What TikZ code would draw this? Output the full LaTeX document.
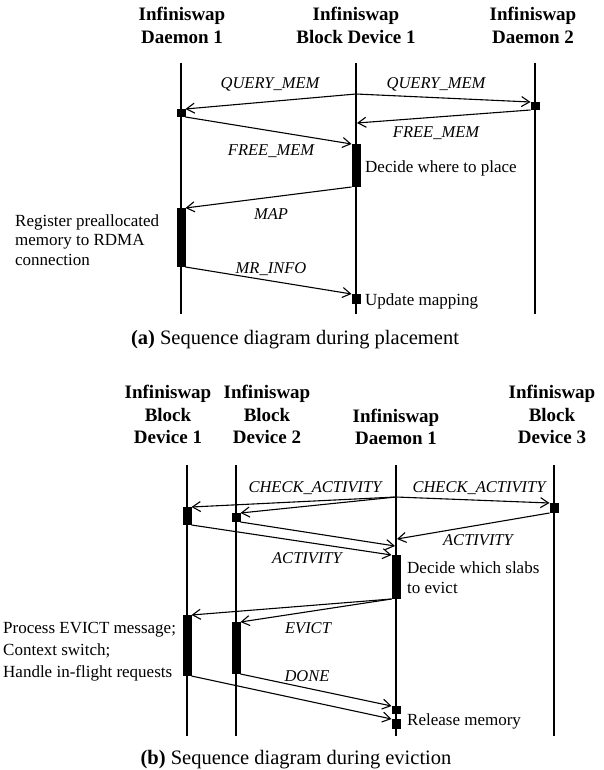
\documentclass[tikz,border=0pt]{standalone}
\usepackage{fontspec}
\setmainfont{Liberation Serif}
\usetikzlibrary{arrows.meta}
\begin{document}
\begin{tikzpicture}[x=1pt,y=-1pt,
  life/.style={line width=1.8pt},
  msg/.style={line width=1.1pt,-{Straight Barb[length=8pt,width=10pt,line width=1.1pt]}},
  act/.style={fill=black,draw=none,minimum width=9pt,inner sep=0pt,outer sep=0pt},
  ttl/.style={font=\fontsize{19}{22.5}\selectfont\bfseries,align=center,anchor=south,inner sep=0pt},
  lbl/.style={font=\fontsize{16.5}{20}\selectfont\itshape,anchor=base,inner sep=0pt},
  txt/.style={font=\fontsize{17}{20}\selectfont,align=left,anchor=base west,inner sep=0pt},
  captext/.style={font=\fontsize{20.5}{24}\selectfont,anchor=base,inner sep=0pt}]
\useasboundingbox (0,0) rectangle (603,770);

% ---------------- (a) placement ----------------
\node[ttl] (ta1) at (182,43.5) {Infiniswap\\Daemon 1};
\node[ttl] (ta2) at (356,43.5) {Infiniswap\\Block Device 1};
\node[ttl] (ta3) at (533,43.5) {Infiniswap\\Daemon 2};

\coordinate (tD1t) at (181,63);  \coordinate (tD1b) at (181,314);
\coordinate (tB1t) at (356,63);  \coordinate (tB1b) at (356,314);
\coordinate (tD2t) at (535,63);  \coordinate (tD2b) at (535,314);
\draw[life] (tD1t) -- (tD1b);
\draw[life] (tB1t) -- (tB1b);
\draw[life] (tD2t) -- (tD2b);

\node[act,minimum height=8pt]  (tD1s)   at (181,113) {};
\node[act,minimum height=8pt]  (tD2s)   at (535,106) {};
\node[act,minimum height=43pt] (tB1big) at (356,165.5) {};
\node[act,minimum height=59pt] (tD1big) at (181,237.5) {};
\node[act,minimum height=10pt] (tB1s)   at (356,299) {};

\coordinate (tq) at (356,94);
\coordinate (tfm) at (357,123);
\draw[msg] (tq) -- (tD1s.north east);
\draw[msg] (tq) -- (tD2s.north west);
\draw[msg] (tD2s.south west) -- (tfm);
\draw[msg] (tD1s.south east) -- (tB1big.north west);
\draw[msg] (tB1big.south west) -- (tD1big.north east);
\draw[msg] (tD1big.south east) -- (tB1s.north west);

\node[lbl] (lq1) at (270,89) {QUERY\_MEM};
\node[lbl] (lq2) at (436,89) {QUERY\_MEM};
\node[lbl] (lf2) at (436,138) {FREE\_MEM};
\node[lbl] (lf1) at (271,156) {FREE\_MEM};
\node[lbl] (lmap) at (271,219) {MAP};
\node[lbl] (lmr) at (271,273) {MR\_INFO};

\node[txt] (tdec) at (365,172) {Decide where to place};
\node[txt,font=\fontsize{17}{19.5}\selectfont] (treg) at (15,265) {Register preallocated\\memory to RDMA\\connection};
\node[txt] (tupd) at (365,305) {Update mapping};

\node[captext] (capa) at (295,344) {\textbf{(a)} Sequence diagram during placement};

% ---------------- (b) eviction ----------------
\node[ttl] (tb1) at (168,444) {Infiniswap\\Block\\Device 1};
\node[ttl] (tb2) at (267,444) {Infiniswap\\Block\\Device 2};
\node[ttl] (tb3) at (396,445) {Infiniswap\\Daemon 1};
\node[ttl] (tb4) at (552,444) {Infiniswap\\Block\\Device 3};

\coordinate (bB1t) at (187,465); \coordinate (bB1b) at (187,736);
\coordinate (bB2t) at (236,465); \coordinate (bB2b) at (236,736);
\coordinate (bDt)  at (396,465); \coordinate (bDb)  at (396,736);
\coordinate (bB3t) at (554,465); \coordinate (bB3b) at (554,736);
\draw[life] (bB1t) -- (bB1b);
\draw[life] (bB2t) -- (bB2b);
\draw[life] (bDt) -- (bDb);
\draw[life] (bB3t) -- (bB3b);

\node[act,minimum height=18pt] (bB1s)   at (187,516) {};
\node[act,minimum height=9pt]  (bB2s)   at (236,517.5) {};
\node[act,minimum height=10pt] (bB3s)   at (554,508) {};
\node[act,minimum height=44pt] (bDbig)  at (396,577) {};
\node[act,minimum height=61pt] (bB1big) at (187,645.5) {};
\node[act,minimum height=52pt] (bB2big) at (236,648) {};
\node[act,minimum height=8pt]  (bDs1)   at (396,710) {};
\node[act,minimum height=10pt] (bDs2)   at (396,724) {};

\coordinate (bq) at (396,497);
\coordinate (ba3) at (397,539);
\coordinate (ba2) at (395,546);
\draw[msg] (bq) -- (bB1s.north east);
\draw[msg] (bq) -- (bB2s.north east);
\draw[msg] (bq) -- (bB3s.north west);
\draw[msg] (bB3s.south west) -- (ba3);
\draw[msg] (bB2s.south east) -- (ba2);
\draw[msg] (bB1s.south east) -- (bDbig.north west);
\draw[msg] (bDbig.south west) -- (bB1big.north east);
\draw[msg] (bDbig.south west) -- (bB2big.north east);
\draw[msg] (bB2big.south east) -- (bDs1.north west);
\draw[msg] (bB1big.south east) -- (bDs2.north west);

\node[lbl] (lc1) at (315,492) {CHECK\_ACTIVITY};
\node[lbl] (lc2) at (479,492) {CHECK\_ACTIVITY};
\node[lbl] (la2) at (478,545) {ACTIVITY};
\node[lbl] (la1) at (307,563) {ACTIVITY};
\node[lbl] (lev) at (308,633) {EVICT};
\node[lbl] (ldn) at (307,681) {DONE};

\node[txt,font=\fontsize{17}{20}\selectfont] (tslab) at (407,593) {Decide which slabs\\to evict};
\node[txt,font=\fontsize{17}{22}\selectfont] (tproc) at (3,677) {Process EVICT message;\\Context switch;\\Handle in-flight requests};
\node[txt] (trel) at (407,725) {Release memory};

\node[captext] (capb) at (296,764) {\textbf{(b)} Sequence diagram during eviction};
\end{tikzpicture}
\end{document}
